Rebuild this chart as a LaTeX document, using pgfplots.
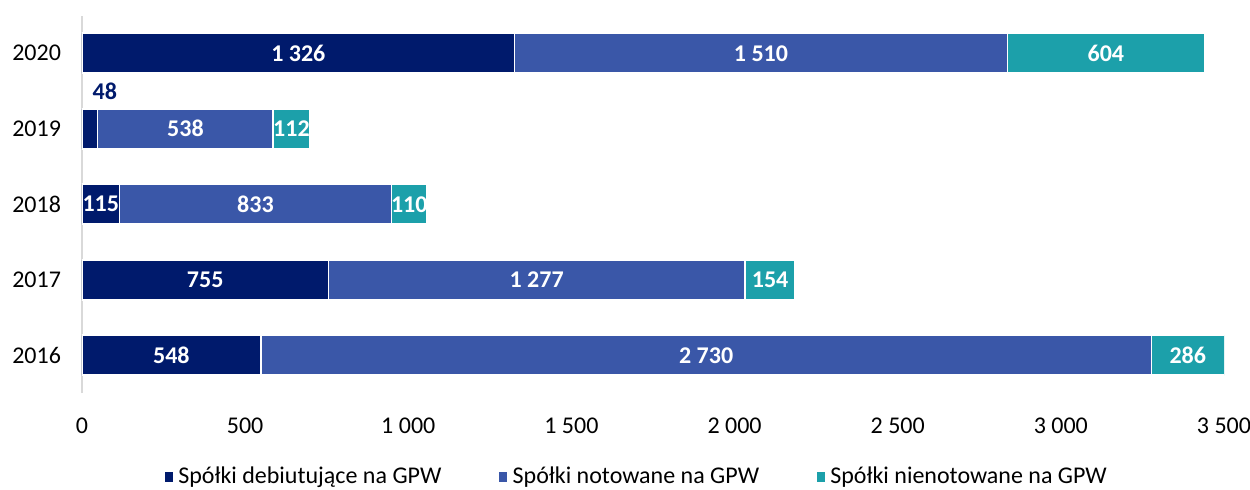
\documentclass[border=0pt]{standalone}
\usepackage{fontspec}
\setmainfont{Carlito}
\usepackage{pgfplots}
\pgfplotsset{compat=1.18}
\definecolor{cA}{RGB}{0,26,108}
\definecolor{cB}{RGB}{58,87,168}
\definecolor{cC}{RGB}{28,160,170}
\definecolor{axgray}{RGB}{217,217,217}
\begin{document}
\begin{tikzpicture}[x=1pt,y=1pt]
\useasboundingbox (0,0) rectangle (625,244.5);
\begin{axis}[
  at={(41pt,48pt)}, anchor=south west,
  scale only axis, width=571pt, height=188.75pt,
  xbar stacked, bar width=20pt,
  xmin=0, xmax=3500, ymin=-0.5, ymax=4.5,
  axis x line*=bottom, axis y line*=left,
  x axis line style={draw=none},
  y axis line style={draw=axgray, line width=1pt},
  major tick length=0pt,
  xtick={0,500,...,3500},
  ytick={0,1,2,3,4},
  yticklabels={2016,2017,2018,2019,2020},
  scaled x ticks=false,
  /pgf/number format/assume math mode=true,
  /pgf/number format/1000 sep={\ },
  tick label style={font=\fontsize{12}{14}\selectfont, text=black},
  xticklabel style={yshift=-9pt},
  yticklabel style={xshift=-7pt},
  legend style={at={(0.5,0)}, anchor=center, yshift=-42pt, xshift=-8pt,
    draw=none, font=\fontsize{12}{14}\selectfont,
    /tikz/every even column/.append style={column sep=26pt}},
  legend columns=3,
  legend image code/.code={\fill[#1] (0pt,-2.8pt) rectangle (4.8pt,2.8pt);},
]
\addplot[fill=cA, draw=white, line width=0.8pt] coordinates {(548,0) (755,1) (115,2) (48,3) (1326,4)};
\addplot[fill=cB, draw=white, line width=0.8pt] coordinates {(2730,0) (1277,1) (833,2) (538,3) (1510,4)};
\addplot[fill=cC, draw=white, line width=0.8pt] coordinates {(286,0) (154,1) (110,2) (112,3) (604,4)};
\legend{Spółki debiutujące na GPW, Spółki notowane na GPW, Spółki nienotowane na GPW}
\end{axis}
\begin{axis}[
  at={(41pt,48pt)}, anchor=south west,
  scale only axis, width=571pt, height=188.75pt,
  xmin=0, xmax=3500, ymin=-0.5, ymax=4.5,
  hide axis, clip=false,
]
\addplot[draw=none, mark=none, nodes near coords, point meta=explicit symbolic,
  nodes near coords style={anchor=center, inner sep=0pt, font=\bfseries\fontsize{12}{14}\selectfont, text=white}]
  coordinates {
  (663,4) [1 326] (2081,4) [1 510] (3138,4) [604]
  (317,3) [538] (642,3) [112]
  (57.5,2) [115] (531.5,2) [833] (1003,2) [110]
  (377.5,1) [755] (1393.5,1) [1 277] (2109,1) [154]
  (274,0) [548] (1913,0) [2 730] (3389,0) [286]
  };
\addplot[draw=none, mark=none, nodes near coords, point meta=explicit symbolic,
  nodes near coords style={anchor=center, inner sep=0pt, font=\bfseries\fontsize{12}{14}\selectfont, text=cA}]
  coordinates {(70,3.5) [48]};
\end{axis}
\end{tikzpicture}
\end{document}
